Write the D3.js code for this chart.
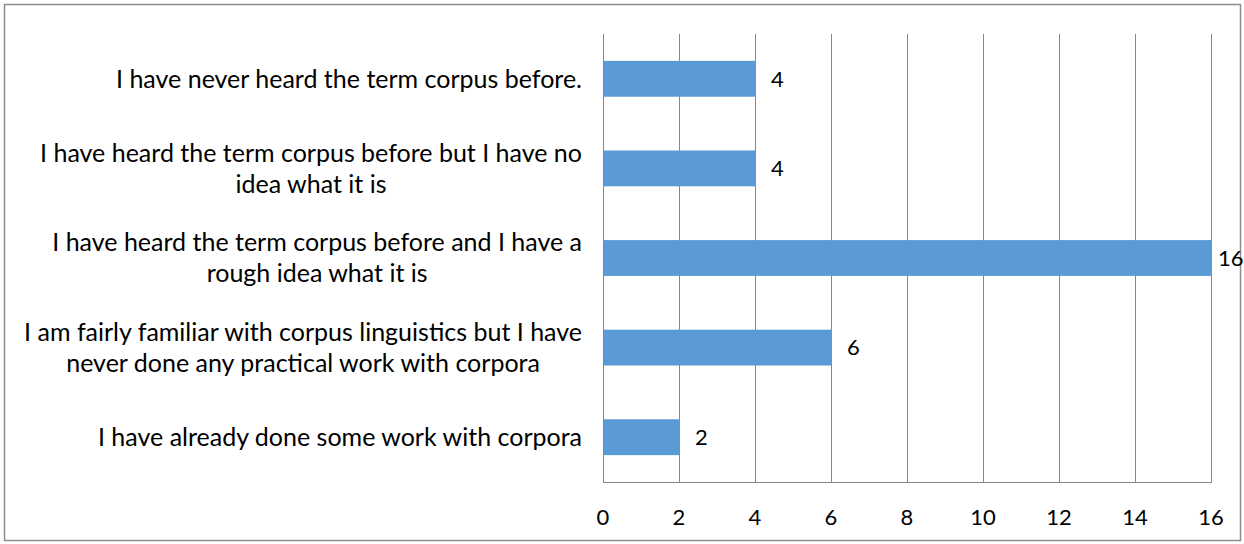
<!DOCTYPE html>
<html>
<head>
<meta charset="utf-8">
<script src="https://cdn.jsdelivr.net/npm/d3@7"></script>
<style>
  body { margin: 0; background: #fff; }
  svg text { font-family: Lato, "Open Sans", sans-serif; fill: #000; }
</style>
</head>
<body>
<div id="chart"></div>
<script>
// chart data
var categories = [
  ["I have never heard the term corpus before."],
  ["I have heard the term corpus before but I have no", "idea what it is"],
  ["I have heard the term corpus before and I have a", "rough idea what it is"],
  ["I am fairly familiar with corpus linguistics but I have", "never done any practical work with corpora"],
  ["I have already done some work with corpora"]
];
var values = [4, 4, 16, 6, 2];
var ticks = [0, 2, 4, 6, 8, 10, 12, 14, 16];

var W = 1244, H = 544;
var margin = {top: 34, right: 33, bottom: 62, left: 603};

var svg = d3.select("#chart").append("svg")
    .attr("width", W)
    .attr("height", H);

// outer frame
svg.append("rect")
    .attr("x", 4.5).attr("y", 4.5)
    .attr("width", W - 8).attr("height", H - 8)
    .style("fill", "none")
    .style("stroke", "#8c8c8c")
    .style("stroke-width", 1.5);

var x = d3.scaleLinear().domain([0, 16]).range([margin.left, W - margin.right]);
var y = d3.scaleBand().domain(d3.range(values.length))
    .range([margin.top, H - margin.bottom])
    .paddingInner(0.6).paddingOuter(0.3);

// vertical gridlines
svg.append("g").selectAll("line")
    .data(ticks)
    .enter().append("line")
    .attr("x1", d => x(d) + 0.5).attr("x2", d => x(d) + 0.5)
    .attr("y1", margin.top).attr("y2", H - margin.bottom)
    .style("stroke", "#868686")
    .style("stroke-width", 1);

// bottom axis line
svg.append("line")
    .attr("x1", x(0)).attr("x2", x(16) + 1)
    .attr("y1", H - margin.bottom + 0.5).attr("y2", H - margin.bottom + 0.5)
    .style("stroke", "#868686");

// bars
svg.append("g").selectAll("rect")
    .data(values)
    .enter().append("rect")
    .attr("x", x(0) + 1)
    .attr("y", (d, i) => y(i))
    .attr("width", d => x(d) - x(0))
    .attr("height", y.bandwidth())
    .style("fill", "#5b9bd5");

// value labels
svg.append("g").selectAll("text")
    .data(values)
    .enter().append("text")
    .attr("x", d => Math.min(x(d) + 16, W - 26))
    .attr("y", (d, i) => y(i) + y.bandwidth() / 2)
    .attr("dy", "0.35em")
    .style("font-size", "22px")
    .text(d => d);

// x tick labels
svg.append("g").selectAll("text")
    .data(ticks)
    .enter().append("text")
    .attr("x", d => x(d))
    .attr("y", H - margin.bottom + 35)
    .attr("dy", "0.35em")
    .attr("text-anchor", "middle")
    .style("font-size", "22px")
    .text(d => d);

// category labels: lines centred on each other, block right edge at 582
var lineH = 31, labelRight = 582;
var cat = svg.append("g").selectAll("text")
    .data(categories)
    .enter().append("text")
    .attr("text-anchor", "middle")
    .style("font-size", "25px");

cat.selectAll("tspan")
    .data(d => d)
    .enter().append("tspan")
    .attr("x", 0)
    .attr("y", (d, j) => j * lineH)
    .attr("dy", "0.35em")
    .text(d => d);

cat.attr("transform", function(d, i) {
  var w = d3.max(d3.select(this).selectAll("tspan").nodes(), n => n.getComputedTextLength());
  var cy = y(i) + y.bandwidth() / 2 - (d.length - 1) * lineH / 2;
  return "translate(" + (labelRight - w / 2) + "," + cy + ")";
});
</script>
</body>
</html>
